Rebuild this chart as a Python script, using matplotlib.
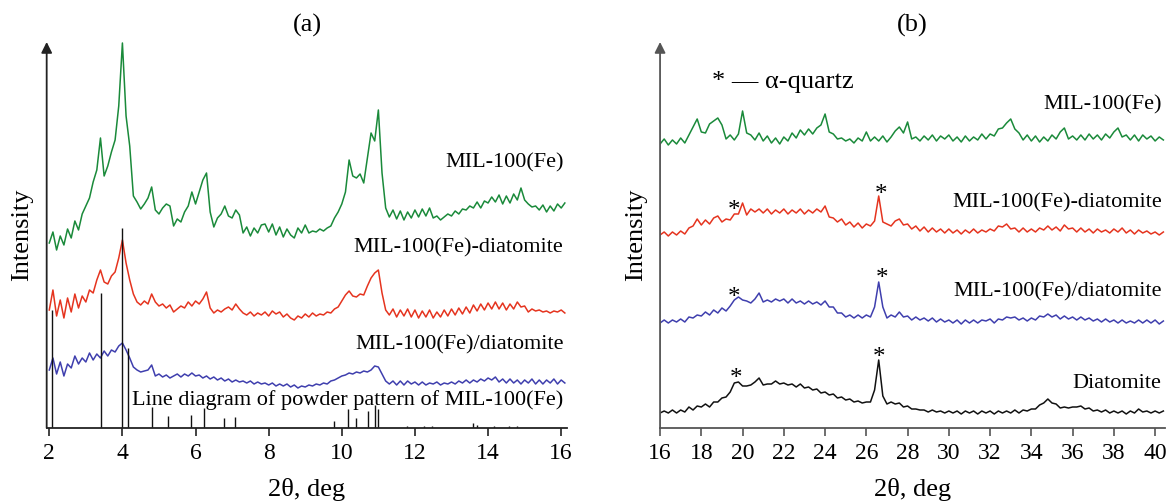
import numpy as np
import matplotlib
matplotlib.use("Agg")
import matplotlib.pyplot as plt

plt.rcParams['font.family'] = ['Liberation Serif', 'DejaVu Serif']

# (a) low-angle patterns, 2theta grid 2.0 ... 16.1 deg
angles_a = np.round(np.arange(2.0, 16.15, 0.1), 1)

mil_a = [
    185, 196, 178, 192, 183, 199, 190, 207, 198, 214,
    222, 230, 246, 258, 290, 252, 262, 276, 288, 322,
    385, 312, 282, 232, 226, 219, 224, 230, 241, 218,
    214, 220, 224, 222, 202, 209, 206, 216, 222, 236,
    224, 236, 248, 255, 216, 201, 210, 214, 222, 212,
    210, 218, 213, 195, 201, 192, 200, 195, 203, 204,
    196, 204, 193, 201, 191, 199, 193, 190, 200, 195,
    203, 195, 197, 196, 199, 197, 200, 202, 210, 216,
    224, 236, 268, 252, 250, 254, 245, 270, 295, 287,
    318, 255, 220, 211, 218, 209, 217, 208, 216, 210,
    218, 211, 219, 212, 220, 210, 212, 208, 211, 214,
    212, 217, 214, 219, 218, 222, 220, 226, 220, 227,
    225, 231, 226, 233, 224, 232, 225, 234, 228, 240,
    228, 224, 221, 222, 218, 223, 216, 222, 217, 224,
    220, 225,
]
mil_dia_a = [
    118, 138, 112, 128, 110, 130, 116, 134, 120, 132,
    126, 138, 135, 148, 158, 146, 144, 152, 156, 170,
    188, 165, 148, 134, 126, 123, 127, 124, 134, 126,
    122, 124, 120, 123, 116, 119, 122, 120, 126, 122,
    127, 124, 129, 136, 120, 115, 118, 116, 119, 121,
    118, 124, 119, 115, 113, 116, 112, 115, 113, 116,
    112, 117, 114, 116, 111, 114, 110, 108, 112, 110,
    114, 111, 115, 112, 114, 113, 116, 115, 119, 121,
    127, 133, 137, 132, 131, 134, 133, 142, 150, 155,
    158, 135, 118, 113, 119, 111, 118, 112, 119, 111,
    118, 110, 117, 111, 118, 110, 116, 111, 118, 112,
    119, 113, 120, 114, 121, 115, 123, 117, 124, 118,
    125, 119, 126, 119, 125, 118, 124, 119, 126, 121,
    122, 116, 119, 117, 118, 116, 117, 115, 117, 116,
    118, 115,
]
mil_on_dia_a = [
    58, 70, 54, 66, 52, 64, 60, 72, 64, 70,
    66, 75, 68, 74, 70, 77, 72, 78, 76, 82,
    85, 78, 70, 61, 58, 56, 57, 58, 63, 52,
    54, 51, 53, 50, 52, 54, 51, 54, 52, 55,
    52, 53, 50, 52, 49, 51, 48, 50, 47, 49,
    46, 48, 46, 47, 45, 47, 44, 46, 44, 45,
    43, 45, 42, 44, 42, 44, 41, 43, 40, 42,
    41, 43, 42, 44, 43, 45, 44, 47, 48, 50,
    52, 53, 55, 54, 56, 55, 57, 56, 58, 62,
    61, 54, 47, 44, 47, 43, 47, 43, 47, 44,
    46, 43, 46, 43, 45, 44, 46, 43, 45, 44,
    46, 44, 47, 45, 48, 45, 48, 46, 49, 47,
    50, 48, 51, 46, 49, 45, 49, 45, 48, 44,
    48, 45, 49, 44, 48, 44, 48, 45, 49, 44,
    48, 45,
]

# reference line diagram of MIL-100(Fe)
stick_pos = [2.08, 3.41, 3.99, 4.14, 4.80, 5.24, 5.88, 6.23, 6.78, 7.08,
             9.80, 10.17, 10.39, 10.72, 10.92, 10.98, 11.77, 12.24, 12.47,
             13.59, 13.70, 14.15, 14.57, 14.80]
stick_h = [118, 135, 200, 80, 21, 12, 13, 20, 10, 11,
           7, 19, 10, 17, 23, 19, 2, 2, 2, 5, 3, 2, 2, 2]

# (b) wide-angle patterns, 2theta grid 16.0 ... 40.4 deg
angles_b = np.round(np.arange(16.0, 40.45, 0.2), 1)

mil_b = [
    284, 289, 283, 288, 284, 290, 285, 293, 301, 309,
    296, 295, 304, 307, 310, 303, 289, 293, 288, 294,
    317, 295, 293, 288, 295, 287, 292, 285, 290, 284,
    291, 287, 295, 290, 298, 293, 299, 294, 300, 303,
    314, 296, 294, 289, 290, 287, 289, 285, 290, 287,
    296, 287, 291, 287, 292, 286, 291, 297, 301, 295,
    306, 289, 291, 287, 292, 288, 293, 287, 292, 289,
    293, 287, 291, 286, 292, 287, 291, 288, 294, 289,
    294, 292, 299, 300, 305, 309, 299, 295, 288, 293,
    287, 292, 286, 291, 287, 293, 289, 296, 300, 289,
    292, 288, 293, 288, 294, 289, 293, 288, 294, 290,
    296, 300, 291, 293, 288, 293, 287, 293, 289, 292,
    287, 291, 288,
]
mil_dia_b = [
    193, 196, 192, 196, 193, 197, 194, 200, 202, 209,
    203, 208, 204, 210, 212, 206, 209, 208, 214, 214,
    225, 213, 219, 216, 219, 215, 219, 214, 218, 215,
    219, 214, 218, 215, 219, 214, 218, 215, 219, 216,
    222, 211, 210, 206, 209, 203, 206, 201, 205, 200,
    204, 202, 207, 232, 206, 204, 202, 207, 209, 203,
    204, 199, 202, 197, 201, 196, 200, 196, 199, 195,
    199, 195, 198, 194, 198, 195, 199, 195, 198, 196,
    199, 197, 202, 201, 204, 199, 200, 196, 200, 196,
    199, 196, 200, 198, 202, 198, 201, 197, 203, 199,
    200, 196, 200, 196, 199, 195, 199, 196, 198, 195,
    199, 196, 200, 195, 198, 194, 198, 195, 197, 194,
    196, 193, 196,
]
mil_on_dia_b = [
    105, 108, 105, 108, 106, 109, 106, 111, 110, 113,
    112, 116, 113, 118, 115, 120, 117, 122, 128, 131,
    128, 127, 125, 129, 135, 126, 128, 126, 129, 127,
    129, 125, 129, 125, 127, 124, 127, 124, 126, 123,
    127, 121, 121, 115, 115, 111, 113, 110, 113, 110,
    113, 111, 121, 146, 121, 110, 113, 111, 116, 111,
    112, 108, 111, 108, 110, 107, 110, 106, 109, 106,
    108, 105, 108, 104, 108, 105, 108, 105, 108, 107,
    109, 105, 109, 108, 111, 110, 111, 108, 110, 107,
    110, 108, 112, 111, 114, 111, 113, 109, 112, 109,
    111, 108, 111, 108, 110, 107, 109, 106, 109, 106,
    108, 105, 108, 105, 107, 105, 108, 105, 108, 105,
    108, 104, 107,
]
diatomite_b = [
    15, 17, 15, 18, 15, 18, 16, 21, 18, 22,
    21, 24, 21, 26, 26, 30, 31, 36, 45, 46,
    42, 42, 43, 46, 50, 43, 44, 44, 47, 44,
    45, 43, 44, 41, 44, 40, 41, 38, 39, 35,
    36, 33, 34, 30, 31, 28, 29, 26, 27, 25,
    26, 26, 38, 68, 32, 24, 26, 24, 25, 21,
    22, 19, 19, 18, 18, 16, 18, 16, 17, 15,
    17, 15, 17, 14, 17, 15, 17, 14, 17, 15,
    17, 14, 17, 15, 17, 15, 18, 15, 18, 17,
    19, 19, 23, 25, 29, 25, 24, 20, 21, 20,
    21, 21, 22, 19, 20, 17, 18, 16, 18, 15,
    17, 15, 17, 14, 17, 15, 19, 16, 17, 15,
    17, 15, 17,
]

# alpha-quartz reflections marked with asterisks: (2theta, height of mark)
quartz_x = [19.6, 26.7, 19.6, 26.75, 19.7, 26.6]
quartz_y = [223, 239, 136, 155, 55, 76]

GREEN = "#1a8a3a"
RED = "#e5341f"
BLUE = "#3f3fae"
BLACK = "#111111"

fig = plt.figure(figsize=(11.67, 5.01), dpi=100)
ax_a = fig.add_axes([0.0400, 0.1457, 0.4459, 0.7705])
ax_b = fig.add_axes([0.5656, 0.1457, 0.4327, 0.7705])

lw = 1.1
ax_a.plot(angles_a, mil_a, color=GREEN, lw=lw)
ax_a.plot(angles_a, mil_dia_a, color=RED, lw=lw)
ax_a.plot(angles_a, mil_on_dia_a, color=BLUE, lw=lw)
ax_a.vlines(stick_pos, 0, stick_h, color=BLACK, lw=1.0)

ax_b.plot(angles_b, mil_b, color=GREEN, lw=lw)
ax_b.plot(angles_b, mil_dia_b, color=RED, lw=lw)
ax_b.plot(angles_b, mil_on_dia_b, color=BLUE, lw=lw)
ax_b.plot(angles_b, diatomite_b, color=BLACK, lw=lw)

for qx, qy in zip(quartz_x, quartz_y):
    ax_b.text(qx, qy - 12, "*", fontsize=18, ha="center", va="baseline")

ax_a.set_xlim(1.929, 16.16)
ax_b.set_xlim(16.0, 40.48)
ax_a.set_xticks(np.arange(2, 17, 2))
ax_b.set_xticks(np.arange(16, 41, 2))

for ax, spine_col in [(ax_a, "#222222"), (ax_b, "#555555")]:
    ax.set_ylim(0, 386)
    ax.set_yticks([])
    for side in ["top", "right", "left"]:
        ax.spines[side].set_visible(False)
    ax.spines["bottom"].set_color(spine_col)
    ax.spines["bottom"].set_linewidth(1.3)
    ax.tick_params(axis="x", direction="out", length=6, width=1.2,
                   color=spine_col, labelsize=17, pad=5)
    # vertical axis drawn as an arrow
    ax.annotate("", xy=(0, 1.0), xytext=(0, 0), xycoords="axes fraction",
                textcoords="axes fraction", annotation_clip=False,
                arrowprops=dict(arrowstyle="-|>", color=spine_col, lw=1.3,
                                mutation_scale=16, shrinkA=0, shrinkB=0))
    ax.set_xlabel("2θ, deg", fontsize=19)
    ax.xaxis.set_label_coords(0.5, -0.16)
    ax.xaxis.label.set_va("center")
    ax.set_ylabel("Intensity", fontsize=19)
    ax.yaxis.set_label_coords(-0.048, 0.5)
    ax.yaxis.label.set_va("center")

lab = dict(fontsize=16, ha="right", va="center")
ax_a.text(16.06, 265, "MIL-100(Fe)", **lab)
ax_a.text(16.06, 180, "MIL-100(Fe)-diatomite", **lab)
ax_a.text(16.06, 83, "MIL-100(Fe)/diatomite", **lab)
ax_a.text(16.06, 28, "Line diagram of powder pattern of MIL-100(Fe)", **lab)

ax_b.text(40.32, 323, "MIL-100(Fe)", **lab)
ax_b.text(40.32, 225, "MIL-100(Fe)-diatomite", **lab)
ax_b.text(40.32, 136, "MIL-100(Fe)/diatomite", **lab)
ax_b.text(40.32, 45, "Diatomite", **lab)
ax_b.text(18.51, 346, "* — α-quartz", fontsize=19, ha="left", va="center")

fig.text(307 / 1167, 1 - 25 / 501, "(a)", fontsize=19, ha="center", va="center")
fig.text(912 / 1167, 1 - 25 / 501, "(b)", fontsize=19, ha="center", va="center")

fig.savefig("out.png", dpi=100)
